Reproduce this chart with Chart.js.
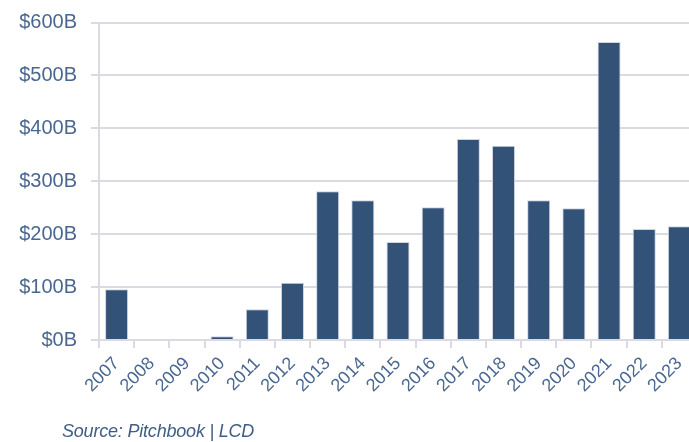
<!DOCTYPE html>
<html>
<head>
<meta charset="utf-8">
<script src="https://cdn.jsdelivr.net/npm/chart.js@4.4.1/dist/chart.umd.min.js"></script>
<style>
  html, body { margin: 0; padding: 0; background: #ffffff; overflow: hidden; width: 689px; height: 442px; }
  #wrap { position: absolute; left: 0; top: 0; width: 697px; height: 442px; }
  #source { position: absolute; left: 62px; top: 422px; font-family: "Liberation Sans", Arial, sans-serif; font-style: italic; font-size: 18px; line-height: 18px; color: #3f5d85; letter-spacing: -0.2px; white-space: nowrap; }
</style>
</head>
<body>
<div id="wrap"><canvas id="c" width="697" height="442"></canvas></div>
<div id="source">Source: Pitchbook | LCD</div>
<script>
const categories = ["2007","2008","2009","2010","2011","2012","2013","2014","2015","2016","2017","2018","2019","2020","2021","2022","2023"];
const volumes = [96, 0, 0, 7, 58, 108, 281, 264, 185, 251, 380, 367, 264, 249, 563, 210, 215];
const yTickValues = [0, 100, 200, 300, 400, 500, 600];

const textColor = '#4a6790';
const gridColor = '#dadae3';

new Chart(document.getElementById('c'), {
  type: 'bar',
  data: {
    labels: categories,
    datasets: [{
      data: volumes,
      backgroundColor: '#335278',
      borderColor: '#cfd4df',
      borderWidth: 1,
      categoryPercentage: 1.0,
      barPercentage: 0.655
    }]
  },
  options: {
    responsive: false,
    animation: false,
    devicePixelRatio: 1,
    layout: { padding: { top: 22.5, right: 0, left: 0, bottom: 0 } },
    plugins: { legend: { display: false }, tooltip: { enabled: false } },
    scales: {
      x: {
        grid: { display: true, drawOnChartArea: false, drawTicks: true, tickLength: 8, color: gridColor, lineWidth: 2, offset: true },
        border: { display: true, color: gridColor, width: 2 },
        ticks: {
          color: textColor,
          font: { family: 'Liberation Sans', size: 18 },
          minRotation: 45, maxRotation: 45, padding: 5, autoSkip: false
        },
        afterFit: (s) => { s.height = 102; s.paddingLeft = 0; s.paddingRight = 0; s.paddingTop = 0; s.paddingBottom = 0; }
      },
      y: {
        min: 0, max: 600,
        afterBuildTicks: (s) => { s.ticks = yTickValues.map(v => ({ value: v })); },
        grid: { color: gridColor, lineWidth: 2, drawTicks: true, tickLength: 8 },
        border: { display: true, color: gridColor, width: 2 },
        ticks: {
          color: textColor,
          font: { family: 'Liberation Sans', size: 20 },
          padding: 14,
          callback: (v) => '$' + v + 'B'
        },
        afterFit: (s) => { s.width = 99; s.paddingTop = 0; s.paddingBottom = 0; s.paddingLeft = 0; s.paddingRight = 0; }
      }
    }
  }
});
</script>
</body>
</html>
